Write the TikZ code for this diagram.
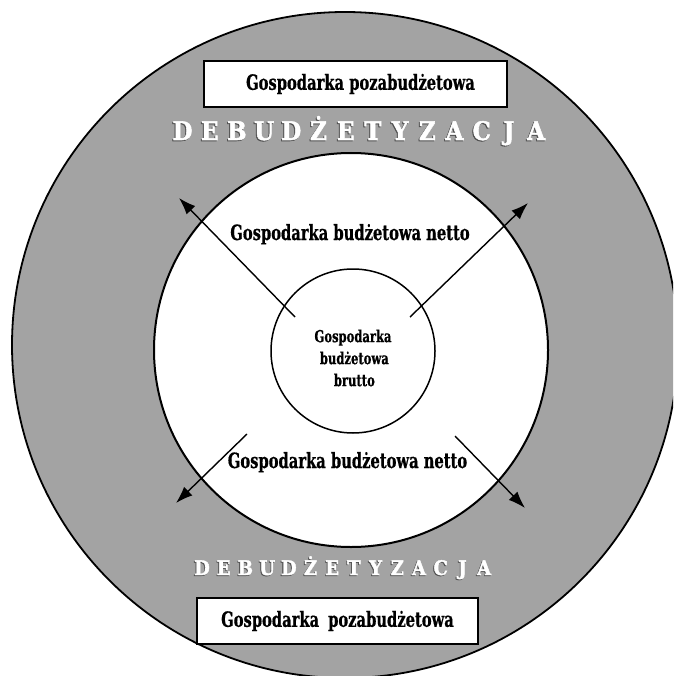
\documentclass[tikz,border=0pt]{standalone}
\usepackage{fontspec}
\usetikzlibrary{arrows.meta}
\newfontfamily\condfont[FakeStretch=0.70,FakeBold=0.6]{DejaVu Serif}
\newfontfamily\capsfont[FakeStretch=0.9,FakeBold=2]{DejaVu Serif}
\definecolor{ringgray}{RGB}{163,163,163}
\definecolor{shadowgray}{RGB}{80,80,80}
\tikzset{
  ringline/.style={line width=1.8pt, draw=black},
  plate/.style={draw=black, line width=1.6pt, fill=white, minimum height=46pt, inner sep=0pt,
    font=\condfont\bfseries\fontsize{21}{24}\selectfont},
  lab/.style={font=\condfont\bfseries\fontsize{21}{24}\selectfont, inner sep=0pt, anchor=base},
  corelab/.style={font=\condfont\bfseries\fontsize{16.5}{22}\selectfont, align=center, inner sep=0pt},
  outarrow/.style={line width=1.4pt, -{Latex[length=17pt,width=12pt]}},
  debubig/.style={font=\capsfont\bfseries\fontsize{25.5}{27}\selectfont, inner sep=0pt, anchor=base},
  debusmall/.style={font=\capsfont\bfseries\fontsize{20}{22}\selectfont, inner sep=0pt, anchor=base},
}
\begin{document}
\begin{tikzpicture}[x=1pt,y=-1pt]
\useasboundingbox (0,0) rectangle (673,676);
\clip (0,0) rectangle (673,676);
% shaded ring area
\fill[ringgray] (345,345) circle[radius=333pt];
\draw[ringline] (345,345) circle[radius=333pt];
% inner white disc
\node[draw=black, line width=2pt, circle, fill=white, minimum size=394pt, inner sep=0pt] (inner) at (351,350) {};
% core circle
\node[draw=black, line width=1.5pt, circle, fill=white, minimum size=164pt, inner sep=0pt] (core) at (353,351) {};
\node[corelab] (coretext) at (353,358) {Gospodarka\\ \,budżetowa\\ \,brutto};
% arrows
\coordinate (s1) at (295,317); \coordinate (e1) at (179,198);
\coordinate (s2) at (410,317); \coordinate (e2) at (528,203);
\coordinate (s3) at (247,434); \coordinate (e3) at (176,503);
\coordinate (s4) at (455,436); \coordinate (e4) at (525,508);
\draw[outarrow] (s1) -- (e1);
\draw[outarrow] (s2) -- (e2);
\draw[outarrow] (s3) -- (e3);
\draw[outarrow] (s4) -- (e4);
% netto labels
\node[lab] (nettoTop) at (350,240) {Gospodarka budżetowa netto};
\node[lab] (nettoBot) at (347.5,468) {Gospodarka budżetowa netto};
% boxes
\node[plate, minimum width=303pt] (boxTop) at (355.5,84) {\hspace{10pt}Gospodarka pozabudżetowa};
\node[plate, minimum width=281pt] (boxBot) at (337.5,621) {Gospodarka\hspace{9pt}pozabudżetowa\hspace{9pt}};
% DEBUDZETYZACJA lettering
\foreach \l [count=\i] in {D,E,B,U,D,Ż,E,T,Y,Z,A,C,J,A} {
  \node[debubig, text=shadowgray] (ts\i) at ({182.5+(\i-1)*27.2-1}, 141) {\l};
  \node[debubig, text=white] (t\i) at ({182.5+(\i-1)*27.2}, 140) {\l};
  \node[debusmall, text=shadowgray] (bs\i) at ({202+(\i-1)*21.7-0.9}, 575.9) {\l};
  \node[debusmall, text=white] (b\i) at ({202+(\i-1)*21.7}, 575) {\l};
}
\end{tikzpicture}
\end{document}
